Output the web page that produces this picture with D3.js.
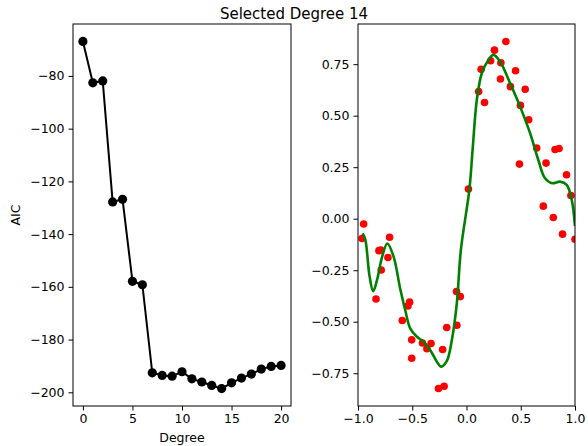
<!DOCTYPE html>
<html>
<head>
<meta charset="utf-8">
<script src="https://cdn.jsdelivr.net/npm/d3@7"></script>
<style>
  body { margin: 0; background: #fff; }
  text { font-family: "DejaVu Sans", sans-serif; fill: #000; }
</style>
</head>
<body>
<div id="chart"></div>
<script>
const WIDTH = 588
const HEIGHT = 446

// 左图：各阶数的 AIC
const degrees = d3.range(0, 21)
const aicValues = [-66.9, -82.6, -81.9, -127.8, -126.8, -157.9, -159.2, -192.6, -193.6, -193.9,
  -192.2, -194.9, -196.1, -197.4, -198.6, -196.4, -194.6, -193.1, -191.2, -190.2, -189.8]
const aicTicks = [-80, -100, -120, -140, -160, -180, -200]
const degreeTicks = [0, 5, 10, 15, 20]

// 右图：样本点
const sampleX = [-0.963, -0.948, -0.834, -0.807, -0.790, -0.786, -0.724, -0.709, -0.592, -0.540,
  -0.525, -0.505, -0.505, -0.406, -0.365, -0.327, -0.258, -0.206, -0.220, -0.182,
  -0.089, -0.092, -0.057, 0.018, 0.112, 0.135, 0.166, 0.222, 0.258, 0.317,
  0.313, 0.363, 0.405, 0.452, 0.497, 0.541, 0.573, 0.488, 0.647, 0.733,
  0.816, 0.853, 0.922, 0.962, 0.708, 0.800, 0.885, 1.0]
const sampleY = [-0.096, -0.026, -0.390, -0.155, -0.152, -0.249, -0.188, -0.090, -0.494, -0.424,
  -0.405, -0.588, -0.677, -0.603, -0.631, -0.606, -0.824, -0.813, -0.635, -0.528,
  -0.517, -0.353, -0.378, 0.144, 0.617, 0.725, 0.564, 0.767, 0.818, 0.757,
  0.678, 0.860, 0.641, 0.718, 0.550, 0.628, 0.480, 0.265, 0.343, 0.270,
  0.336, 0.341, 0.213, 0.113, 0.061, 0.006, -0.075, -0.100]

// 右图：14 阶拟合曲线
const fitX = [-0.957, -0.933, -0.893, -0.860, -0.825, -0.780, -0.730, -0.672, -0.611, -0.565,
  -0.519, -0.457, -0.396, -0.335, -0.273, -0.233, -0.181, -0.135, -0.089, -0.052,
  0.027, 0.056, 0.095, 0.141, 0.202, 0.248, 0.310, 0.402, 0.494, 0.586,
  0.662, 0.724, 0.790, 0.862, 0.924, 0.970, 1.0]
const fitY = [-0.071, -0.100, -0.281, -0.352, -0.298, -0.190, -0.120, -0.184, -0.340, -0.443,
  -0.532, -0.573, -0.597, -0.637, -0.694, -0.718, -0.690, -0.589, -0.410, -0.152,
  0.144, 0.333, 0.576, 0.706, 0.770, 0.795, 0.762, 0.657, 0.544, 0.415,
  0.285, 0.196, 0.172, 0.180, 0.164, 0.091, -0.035]
const fitYTicks = [-0.75, -0.5, -0.25, 0, 0.25, 0.5, 0.75]
const fitXTicks = [-1, -0.5, 0, 0.5, 1]

const TOP = 24
const BOTTOM = 406

const svg = d3.select('#chart')
  .append('svg')
  .attr('width', WIDTH)
  .attr('height', HEIGHT)

svg.append('text')
  .attr('x', 294)
  .attr('y', 19)
  .attr('text-anchor', 'middle')
  .style('font-size', '15px')
  .text('Selected Degree 14')

// 画坐标轴和边框
function drawFrame (g, x, y, xTicks, yTicks, xFmt, yFmt) {
  const [x0, x1] = x.range()
  const xa = g.append('g')
    .attr('transform', `translate(0,${BOTTOM})`)
    .call(d3.axisBottom(x).tickValues(xTicks).tickFormat(d3.format(xFmt)).tickSize(4.5).tickPadding(4))
  const ya = g.append('g')
    .attr('transform', `translate(${x0},0)`)
    .call(d3.axisLeft(y).tickValues(yTicks).tickFormat(d3.format(yFmt)).tickSize(4.5).tickPadding(4))
  ;[xa, ya].forEach(a => {
    a.select('.domain').remove()
    a.selectAll('text').style('font-size', '12.5px').attr('fill', '#000')
    a.selectAll('line').attr('stroke', '#000').attr('stroke-width', 1)
  })
  g.append('rect')
    .attr('x', x0).attr('y', TOP)
    .attr('width', x1 - x0).attr('height', BOTTOM - TOP)
    .attr('fill', 'none')
    .attr('stroke', '#000')
    .attr('stroke-width', 1)
}

// 左图
const xL = d3.scaleLinear().domain([-1, 21]).range([73, 291])
const yL = d3.scaleLinear().domain([-205.2, -60.3]).range([BOTTOM, TOP])
const left = svg.append('g')

left.append('path')
  .datum(degrees)
  .attr('fill', 'none')
  .attr('stroke', '#000')
  .attr('stroke-width', 2)
  .attr('d', d3.line().x(d => xL(d)).y((d, i) => yL(aicValues[i])))

left.selectAll('circle')
  .data(degrees)
  .enter()
  .append('circle')
  .attr('cx', d => xL(d))
  .attr('cy', (d, i) => yL(aicValues[i]))
  .attr('r', 4.6)
  .attr('fill', '#000')

drawFrame(left, xL, yL, degreeTicks, aicTicks, 'd', 'd')

left.append('text')
  .attr('x', xL(10))
  .attr('y', 442)
  .attr('text-anchor', 'middle')
  .style('font-size', '12.5px')
  .text('Degree')

left.append('text')
  .attr('transform', `translate(20,${(TOP + BOTTOM) / 2}) rotate(-90)`)
  .attr('text-anchor', 'middle')
  .style('font-size', '12.5px')
  .text('AIC')

// 右图
const xR = d3.scaleLinear().domain([-1, 1]).range([358, 575])
const yR = d3.scaleLinear().domain([-0.909, 0.945]).range([BOTTOM, TOP])
const right = svg.append('g')

svg.append('clipPath')
  .attr('id', 'clipR')
  .append('rect')
  .attr('x', 358).attr('y', TOP)
  .attr('width', 575 - 358).attr('height', BOTTOM - TOP)

const plot = right.append('g').attr('clip-path', 'url(#clipR)')

plot.selectAll('circle')
  .data(sampleX)
  .enter()
  .append('circle')
  .attr('cx', d => xR(d))
  .attr('cy', (d, i) => yR(sampleY[i]))
  .attr('r', 3.8)
  .attr('fill', '#ff0000')

plot.append('path')
  .datum(fitX)
  .attr('fill', 'none')
  .attr('stroke', '#008000')
  .attr('stroke-width', 2.6)
  .attr('d', d3.line().curve(d3.curveCatmullRom.alpha(0.5)).x(d => xR(d)).y((d, i) => yR(fitY[i])))

drawFrame(right, xR, yR, fitXTicks, fitYTicks, '.1f', '.2f')
</script>
</body>
</html>
